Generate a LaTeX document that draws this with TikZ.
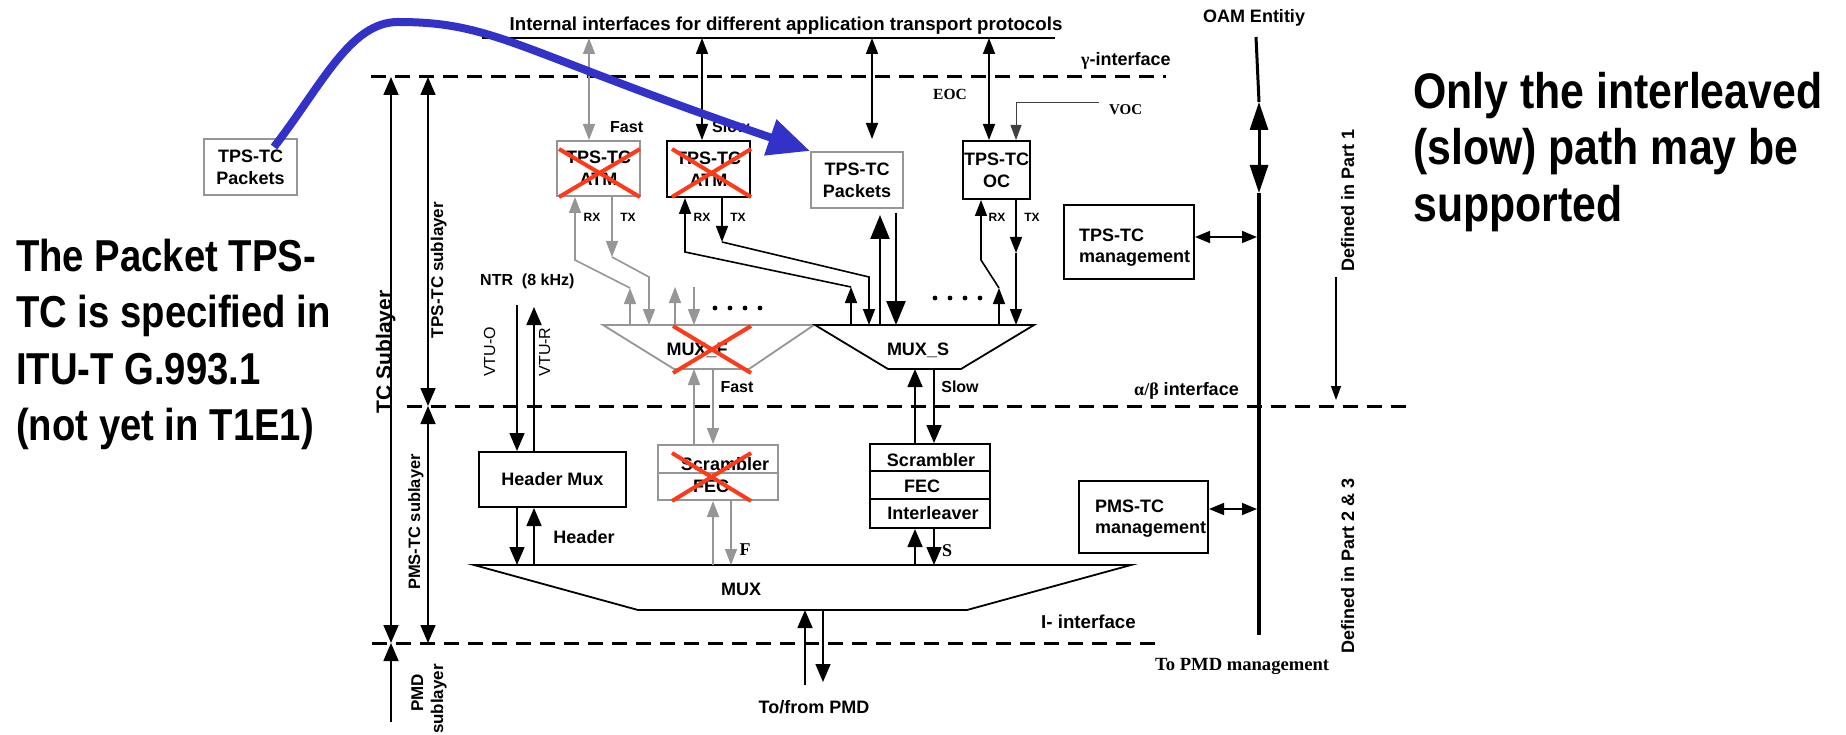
\documentclass[tikz,border=0pt]{standalone}
\usepackage{fontspec}
\setmainfont{Liberation Sans}
\newfontfamily\tms{Liberation Serif}
\newfontfamily\condsans[FakeStretch=0.856]{Liberation Sans}
\usetikzlibrary{arrows.meta,calc}

\definecolor{crossred}{RGB}{255,58,24}
\definecolor{faded}{RGB}{150,150,150}
\definecolor{noteblue}{RGB}{50,50,200}

\tikzset{
  txt/.style={font=\bfseries\fontsize{#1}{21}\selectfont, inner sep=0pt},
  regtxt/.style={font=\fontsize{#1}{21}\selectfont, inner sep=0pt},
  sertxt/.style={font=\tms\bfseries\fontsize{#1}{21}\selectfont, inner sep=0pt},
  boxtxt/.style={font=\bfseries\fontsize{18}{22}\selectfont, inner sep=0pt, align=center},
  blk/.style={draw, line width=2pt, boxtxt},
  gbox/.style={draw=faded, line width=2pt, boxtxt},
  conn/.style={line width=1.6pt},
  gconn/.style={line width=1.6pt, draw=faded, >={Triangle[length=16pt,width=12pt]}},
  small/.style={>={Triangle[length=16pt,width=12pt]}},
  bighead/.style={line width=2.4pt, >={Triangle[length=24pt,width=19pt]}},
  mgmthead/.style={>={Triangle[length=15pt,width=12pt]}},
  ifline/.style={line width=3pt, dash pattern=on 15pt off 9pt},
  cross/.style={draw=crossred, line width=4pt},
}

\begin{document}
\begin{tikzpicture}[x=1pt, y=-1pt, >={Triangle[length=18pt,width=15pt]}]
\path[fill=white, use as bounding box] (0,0) rectangle (1846,735);

% ---------- interface levels ----------
\coordinate (gamL) at (371,77);  \coordinate (gamR) at (1166,77);
\coordinate (abL)  at (407,406); \coordinate (abR)  at (1413,406);
\coordinate (iL)   at (372,643); \coordinate (iR)   at (1158,643);
\draw[ifline] (gamL) -- (gamR);
\draw[ifline] (abL) -- (abR);
\draw[ifline] (iL) -- (iR);

% ---------- application bus ----------
\coordinate (barL) at (482,38); \coordinate (barR) at (1055,38);
\draw[line width=2.5pt] (barL) -- (barR);
\node[txt=18.7, anchor=base] (busLab) at (786,31)
  {Internal interfaces for different application transport protocols};

% ---------- TPS-TC blocks ----------
\node[gbox, minimum width=83pt, minimum height=55pt] (atmF) at (598.5,168.5) {TPS-TC\\ATM};
\node[blk,  minimum width=83pt, minimum height=56pt] (atmS) at (708.5,169) {TPS-TC\\ATM};
\node[gbox, minimum width=92pt, minimum height=56pt] (pktR) at (857,180) {TPS-TC\\Packets};
\node[blk,  minimum width=67pt, minimum height=58pt] (ocB)  at (996.5,170) {TPS-TC\\OC};
\node[gbox, minimum width=93pt, minimum height=56pt] (pktL) at (250.5,167) {TPS-TC\\Packets};

% management blocks
\node[blk, minimum width=130pt, minimum height=74pt] (tmg) at (1129,242) {};
\node[txt=18, anchor=north west, align=left] (tmgT) at (1079,229) {TPS-TC\\management};
\node[blk, minimum width=129pt, minimum height=72pt] (pmg) at (1143.5,517) {};
\node[txt=18, anchor=north west, align=left] (pmgT) at (1095,500) {PMS-TC\\management};

% PMS-TC blocks
\node[blk, minimum width=147pt, minimum height=55pt] (hmux) at (552.5,479.5) {Header Mux};
\node[gbox, minimum width=120pt, minimum height=55pt] (scrF) at (718,472.5) {};
\draw[faded, line width=2pt] (scrF.west) -- (scrF.east);
\node[txt=18, anchor=base] (scrFa) at (725,470) {Scrambler};
\node[txt=18, anchor=base] (scrFb) at (711,492) {FEC};
\node[blk, minimum width=120pt, minimum height=84pt] (scrS) at (930,486) {};
\draw[line width=2pt] ($(scrS.north west)+(1,28)$) -- ($(scrS.north east)+(-1,28)$);
\draw[line width=2pt] ($(scrS.north west)+(1,56)$) -- ($(scrS.north east)+(-1,56)$);
\node[txt=18, anchor=base] (scrSa) at (931,466) {Scrambler};
\node[txt=18, anchor=base] (scrSb) at (922,492) {FEC};
\node[txt=18, anchor=base] (scrSc) at (933,519) {Interleaver};

% multiplexers
\draw[faded, line width=1.8pt] (603,325) -- (814,325) -- (749,369) -- (674,369) -- cycle;
\draw[line width=1.8pt] (815,325) -- (1034,325) -- (961,369) -- (888,369) -- cycle;
\draw[line width=1.8pt] (474,565) -- (1131,565) -- (967,610) -- (638,610) -- cycle;
\node[txt=18, anchor=base] (muxF) at (697,355) {MUX\_F};
\node[txt=18, anchor=base] (muxS) at (918,355) {MUX\_S};
\node[txt=18, anchor=base] (mux)  at (741,595) {MUX};

% ---------- bus to TPS-TC ----------
\coordinate (tF) at (589,38); \coordinate (tS) at (702,38);
\coordinate (tP) at (872,38); \coordinate (tO) at (989,38);
\coordinate (pktTop) at (872,139);
\draw[gconn,<->] (tF) -- (tF |- atmF.north);
\draw[conn,small,<->] (tS) -- (tS |- atmS.north);
\draw[conn,small,<->] (tP) -- (pktTop);
\draw[conn,small,<->] (tO) -- (tO |- ocB.north);
\coordinate (vocA) at (1099,103); \coordinate (vocB) at (1016,103);
\draw[line width=1pt, black!75, ->, >={Triangle[length=15pt,width=11pt]}] (vocA) -- (vocB) -- (vocB |- ocB.north);

% ---------- fast path (MUX_F) ----------
\coordinate (fr1) at (630,325); \coordinate (fr2) at (630,288); \coordinate (fr3) at (575,260);
\draw[gconn,->] (fr1) -- (fr2);
\draw[gconn,->] (fr2) -- (fr3) -- (fr3 |- atmF.south);
\coordinate (ft1) at (612,257); \coordinate (ft2) at (649,277); \coordinate (ft3) at (649,325);
\draw[gconn,->] (ft1 |- atmF.south) -- (ft1);
\draw[gconn,->] (ft1) -- (ft2) -- (ft3);
\coordinate (fu1) at (675,325); \coordinate (fu2) at (675,287);
\coordinate (fd1) at (694,287); \coordinate (fd2) at (694,325);
\draw[gconn,->] (fu1) -- (fu2);
\draw[gconn,->] (fd1) -- (fd2);
\foreach \x in {715,730,745,760} \fill (\x,308) circle (2.4pt);

% ---------- slow path (MUX_S) ----------
\coordinate (sr1) at (851,325); \coordinate (sr2) at (851,287); \coordinate (sr3) at (685,252);
\draw[conn,small,->] (sr1) -- (sr2);
\draw[conn,small,->] (sr2) -- (sr3) -- (sr3 |- atmS.south);
\coordinate (st1) at (722,242); \coordinate (st2) at (869,277); \coordinate (st3) at (869,325);
\draw[conn,small,->] (st1 |- atmS.south) -- (st1);
\draw[conn,small,->] (st1) -- (st2) -- (st3);
\coordinate (pu1) at (880,325); \coordinate (pu2) at (880,215);
\coordinate (pd1) at (896,213); \coordinate (pd2) at (896,325);
\draw[bighead,->] (pu1) -- (pu2);
\draw[bighead,->] (pd1) -- (pd2);
\coordinate (or1) at (999,325); \coordinate (or2) at (999,288); \coordinate (or3) at (981,260);
\draw[conn,small,->] (or1) -- (or2);
\draw[conn,small,->] (or2) -- (or3) -- (or3 |- ocB.south);
\coordinate (ot1) at (1016,253); \coordinate (ot2) at (1016,325);
\draw[conn,small,->] (ot1 |- ocB.south) -- (ot1);
\draw[conn,small,->] (ot1) -- (ot2);
\foreach \x in {935,950,965,980} \fill (\x,298) circle (2.4pt);

% ---------- MUX_F / MUX_S to PMS-TC ----------
\coordinate (mfU) at (694,369); \coordinate (mfD) at (713,369);
\draw[gconn,->] (mfU |- scrF.north) -- (mfU);
\draw[gconn,->] (mfD) -- (mfD |- scrF.north);
\coordinate (sfU) at (713,565); \coordinate (sfD) at (731,565);
\draw[gconn,->] (sfU) -- (sfU |- scrF.south);
\draw[gconn,->] (sfD |- scrF.south) -- (sfD);
\coordinate (msU) at (915,369); \coordinate (msD) at (934,369);
\draw[conn,->] (msU |- scrS.north) -- (msU);
\draw[conn,->] (msD) -- (msD |- scrS.north);
\coordinate (ssU) at (915,565); \coordinate (ssD) at (934,565);
\draw[conn,->] (ssU) -- (ssU |- scrS.south);
\draw[conn,->] (ssD |- scrS.south) -- (ssD);

% ---------- header path ----------
\coordinate (ntrO) at (517,305); \coordinate (ntrR) at (534,307);
\draw[conn,->] (ntrO) -- (ntrO |- hmux.north);
\draw[conn,->] (ntrR |- hmux.north) -- (ntrR);
\coordinate (hdO) at (517,565); \coordinate (hdR) at (534,565);
\draw[conn,->] (hdO |- hmux.south) -- (hdO);
\draw[conn,->] (hdR) -- (hdR |- hmux.south);

% ---------- to / from PMD ----------
\coordinate (pmdU) at (805,685); \coordinate (muxU) at (805,610);
\coordinate (muxD) at (823,610); \coordinate (pmdD) at (823,682);
\draw[conn,->] (pmdU) -- (muxU);
\draw[conn,->] (muxD) -- (pmdD);

% ---------- sublayer extents ----------
\coordinate (tcTop) at (391,77);  \coordinate (tcBot) at (391,643);
\coordinate (tpsTop) at (428,77); \coordinate (tpsBot) at (428,406);
\coordinate (pmsBot) at (428,643); \coordinate (pmdBase) at (391,722);
\draw[conn,<->] (tcTop) -- (tcBot);
\draw[conn,<->] (tpsTop) -- (tpsBot);
\draw[conn,<->] (tpsBot) -- (pmsBot);
\draw[conn,->] (pmdBase) -- (tcBot);

% ---------- OAM entity ----------
\coordinate (oamTop) at (1256,37); \coordinate (oamA) at (1259,102);
\coordinate (oamB) at (1259,193);  \coordinate (oamBot) at (1259,635);
\draw[line width=3pt] (oamTop) -- (oamA);
\draw[line width=3pt, <->, >={Triangle[length=28pt,width=18pt]}] (oamA) -- (oamB);
\draw[line width=4pt] (oamB) -- (oamBot);
\coordinate (oamT) at (1257,237); \coordinate (oamP) at (1257,509);
\draw[conn,mgmthead,<->] (oamT -| tmg.east) -- (oamT);
\draw[conn,mgmthead,<->] (oamP -| pmg.east) -- (oamP);
\coordinate (defA) at (1336,277); \coordinate (defB) at (1336,400);
\draw[line width=1.2pt, ->, >={Triangle[length=14pt,width=10pt]}] (defA) -- (defB);

% ---------- labels ----------
\node[txt=18, anchor=base west] (gamLab) at (1081,66) {{\tms γ}-interface};
\node[txt=18, anchor=base west] (abLab) at (1134,395) {{\tms α/β} interface};
\node[txt=18.7, anchor=base west] (iLab) at (1041,628) {I- interface};
\node[txt=18, anchor=base] (oamLab) at (1254,23) {OAM Entitiy};
\node[sertxt=15.5, anchor=base] (eocLab) at (950,100) {EOC};
\node[sertxt=15, anchor=base west] (vocLab) at (1109,115) {VOC};
\node[txt=16, anchor=base west] (fastTop) at (610,133) {Fast};
\node[txt=16, anchor=base west] (slowTop) at (712,133) {Slow};
\node[txt=12, anchor=base] (rx1) at (592,222) {RX};
\node[txt=12, anchor=base] (tx1) at (628,222) {TX};
\node[txt=12, anchor=base] (rx2) at (702,222) {RX};
\node[txt=12, anchor=base] (tx2) at (738,222) {TX};
\node[txt=12, anchor=base] (rx3) at (997,222) {RX};
\node[txt=12, anchor=base] (tx3) at (1032,222) {TX};
\node[txt=16, anchor=base west] (ntrLab) at (480,285) {NTR\ \ (8 kHz)};
\node[regtxt=16, rotate=90, anchor=base] (vtuOLab) at (495,352) {VTU-O};
\node[regtxt=16, rotate=90, anchor=base] (vtuRLab) at (550,352) {VTU-R};
\node[txt=18, anchor=base] (hdrLab) at (584,543) {Header};
\node[txt=16, anchor=base] (fastLow) at (737,392) {Fast};
\node[txt=16, anchor=base] (slowLow) at (960,392) {Slow};
\node[sertxt=18, anchor=base] (fLab) at (745,555) {F};
\node[sertxt=18, anchor=base] (sLab) at (947,556) {S};
\node[txt=18, anchor=base] (pmdLab) at (814,713) {To/from PMD};
\node[sertxt=18.6, anchor=base west] (pmdMg) at (1155,670) {To PMD management};
\node[txt=21, rotate=90, anchor=base] (tcLab) at (391,352) {TC Sublayer};
\node[txt=17, rotate=90, anchor=base] (tpsLab) at (443,270) {TPS-TC sublayer};
\node[txt=16.5, rotate=90, anchor=base] (pmsLab) at (420,522) {PMS-TC sublayer};
\node[txt=17, rotate=90, anchor=base] (pmdSubA) at (423,693) {PMD};
\node[txt=17, rotate=90, anchor=base] (pmdSubB) at (443,699) {sublayer};
\node[txt=18, rotate=90, anchor=base] (def1) at (1354,200) {Defined in Part 1};
\node[txt=18, rotate=90, anchor=base] (def23) at (1354,566) {Defined in Part 2 \& 3};

% ---------- notes ----------
\node[font=\condsans\bfseries\fontsize{44.7}{56.3}\selectfont, inner sep=0pt,
      anchor=north west, align=left] (noteL) at (16,239)
  {The Packet TPS-\\TC is specified in\\ITU-T G.993.1\\(not yet in T1E1)};
\node[font=\condsans\bfseries\fontsize{50}{56.5}\selectfont, inner sep=0pt,
      anchor=north west, align=left] (noteR) at (1413,72)
  {Only the interleaved\\(slow) path may be\\supported};

% ---------- unsupported blocks ----------
\draw[cross] (559,149) -- (640,197) (559,197) -- (640,149);
\draw[cross] (672,149) -- (751,197) (672,197) -- (751,149);
\draw[cross] (673,326) -- (751,373) (673,373) -- (751,326);
\draw[cross] (672,453) -- (751,501) (672,501) -- (751,453);

% ---------- packet TPS-TC relocation ----------
\coordinate (blueStart) at (274,147);
\coordinate (bluePeak) at (398,22);
\draw[noteblue, line width=8pt, -{Triangle[length=42pt,width=36pt]}]
  (blueStart) .. controls (322,85) and (350,22) .. (bluePeak)
  .. controls (495,22) and (515,50) .. (pktR.north west);
\end{tikzpicture}
\end{document}
